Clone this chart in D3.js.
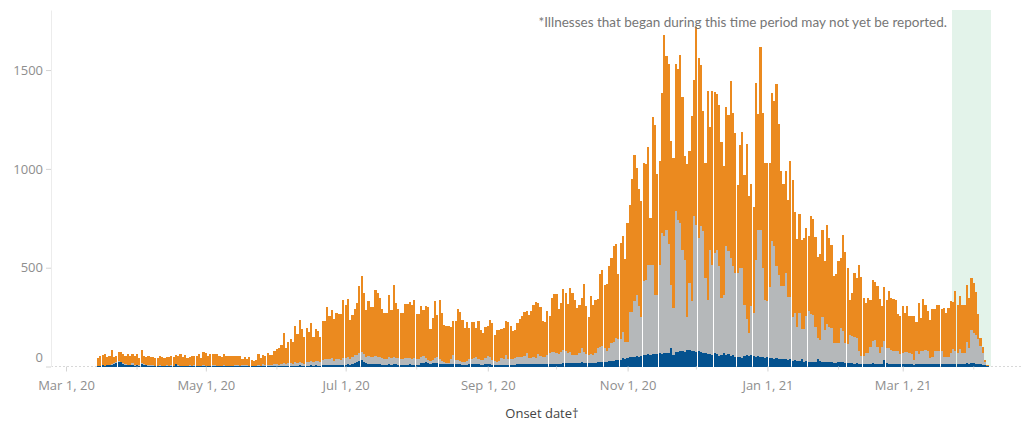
<!DOCTYPE html>
<html>
<head>
<meta charset="utf-8">
<script src="https://cdn.jsdelivr.net/npm/d3@7"></script>
<style>
  body { margin: 0; background: #fff; }
  svg { display: block; }
</style>
</head>
<body>
<svg id="chart"></svg>
<script>
// first day with a bar; one value per day after that
const firstDay = "2020-03-15";

// bottom segment (blue)
const blueSeries = [
  2,4,6,3,8,6,10,14,20,25, 22,15,10,8,6,8,5,6,4,14, 10,6,5,4,5,4,3,5,4,3, 4,3,5,3,12,5,3,4,3,3,
  4,3,5,3,2,3,4,3,3,2, 3,4,3,2,3,4,3,2,2,3, 3,2,2,2,3,2,2,2,1,2, 3,2,3,2,3,3,2,3,4,3,
  5,4,4,4,5,4,5,4,6,5, 4,5,5,6,5,6,5,4,6,6, 7,6,8,6,8,7,6,8,10,12, 10,14,20,24,28,32,25,18,15,12,
  12,14,12,12,10,10,10,12,10,12, 11,10,10,9,10,10,11,10,10,9, 10,16,20,22,16,14,16,18,16,15, 14,12,12,12,14,14,11,11,11,10,
  10,10,11,11,11,11,11,10,10,11, 11,11,10,10,10,10,9,9,10,9, 9,9,10,12,12,12,12,13,12,12, 13,12,14,13,12,12,13,13,14,14,
  14,13,15,20,20,18,20,20,18,18, 20,22,20,18,18,20,18,20,22,25, 25,24,24,26,28,30,33,33,35,42, 40,45,47,47,50,52,48,55,60,58,
  62,60,65,63,65,67,63,67,70,68, 92,60,75,72,80,78,75,82,84,80, 78,75,80,72,70,68,63,65,60,68, 62,55,60,66,58,62,55,60,50,48,
  50,45,55,58,52,58,55,50,52,48, 50,45,48,42,44,40,42,38,40,36, 38,34,36,30,32,28,27,36,25,26, 24,25,23,22,36,30,24,22,25,23,
  22,20,20,22,24,22,20,18,18,16, 15,16,14,13,12,14,15,13,16,15, 14,12,14,33,16,14,15,14,13,12, 14,13,15,14,12,13,10,14,15,14,
  13,15,14,12,13,15,14,15,14,12, 13,12,14,15,14,13,15,14,13,16, 14,18,16,15,14,12,10,6,1
];

// middle segment (grey)
const greySeries = [
  1,1,2,1,2,2,3,2,3,2, 2,3,2,2,4,8,3,2,2,3, 2,2,1,2,2,1,2,2,1,2, 2,1,2,2,2,1,2,1,2,1,
  2,2,2,1,2,2,3,2,2,2, 3,2,2,3,2,2,2,3,2,2, 3,4,3,4,3,8,3,2,2,3, 4,3,8,4,5,6,6,8,10,6,
  8,12,11,14,15,10,17,14,19,15, 10,17,20,24,17,22,25,20,29,32, 33,30,34,24,32,31,28,37,32,38, 28,34,36,36,38,39,37,32,40,36,
  34,38,38,36,32,30,28,38,32,38, 34,32,28,27,34,32,34,30,34,27, 28,34,33,23,17,16,17,27,34,25, 16,10,4,6,26,44,24,22,19,15,
  15,18,25,25,34,39,27,23,23,34, 42,39,23,20,15,18,36,31,50,31, 29,31,32,36,38,36,40,57,33,30, 37,33,51,42,36,38,47,55,61,58,
  56,49,57,64,60,52,55,40,40,38, 50,70,55,47,42,45,40,50,70,75, 79,71,56,69,93,96,110,105,105,135, 86,81,231,231,279,311,256,198,371,381,
  453,455,450,300,298,448,613,592,623,554, 322,235,714,667,647,513,465,171,338,249, 682,643,571,641,614,380,274,526,455,506, 529,452,286,297,550,521,494,447,423,425,
  448,453,257,182,116,246,215,490,641,645, 448,292,281,358,590,568,465,427,366,370, 435,320,318,223,238,174,243,154,165,230, 258,242,238,180,107,105,229,163,191,179,
  172,98,101,99,170,160,98,94,139,136, 133,127,62,42,43,53,52,84,115,120, 87,55,87,98,79,78,69,66,63,64, 49,57,57,58,55,50,23,62,48,66,
  63,69,62,29,37,61,62,61,62,38, 37,38,53,72,62,57,72,56,54,110, 78,167,152,145,124,94,57,16,1
];

// top segment (orange)
const orangeSeries = [
  41,49,50,57,37,46,68,31,28,47, 47,46,42,51,44,45,43,56,35,64, 42,39,45,41,40,36,39,47,42,36, 41,46,47,42,44,45,56,42,53,37,
  41,46,47,47,57,36,64,63,49,57, 58,55,59,46,42,55,49,46,50,46, 48,45,46,31,41,27,42,30,27,29, 54,40,47,48,59,51,52,69,75,84,
  95,152,77,108,120,112,181,144,211,170, 134,172,150,192,129,162,150,126,196,193, 262,222,246,209,232,229,233,293,267,293, 198,215,237,262,339,388,311,237,277,252,
  254,336,320,301,248,233,235,313,245,360, 277,250,235,234,270,274,280,269,294,231, 230,256,232,261,269,160,211,286,213,298, 240,187,189,186,159,173,196,259,245,211,
  169,198,160,190,181,144,193,151,139,154, 151,186,189,129,159,158,144,154,171,183, 169,142,143,171,190,207,223,210,218,240, 260,282,257,245,183,174,222,188,271,296,
  298,228,250,309,290,247,323,310,281,239, 240,254,344,239,190,293,254,268,251,368, 382,317,337,415,430,486,479,332,485,482, 420,601,539,672,739,639,592,586,600,584,
  596,235,748,857,609,525,710,1016,880,907, 727,762,743,766,851,775,525,770,668,939, 689,999,908,814,610,580,1058,621,880,816, 787,815,792,652,703,688,895,775,711,445,
  621,689,658,888,694,617,538,897,586,922, 786,694,702,631,752,736,925,761,583,515, 516,491,686,693,510,443,503,452,460,445, 377,497,483,452,411,436,437,347,502,448,
  422,341,348,415,353,485,460,384,180,222, 325,305,439,398,294,254,282,240,308,291, 308,274,206,269,239,288,265,263,261,189, 193,234,198,235,191,193,223,147,258,165,
  265,228,206,195,240,214,233,236,216,245, 223,245,262,239,304,242,271,242,245,288, 254,263,254,217,127,40,34,13,6
];

const seriesKeys = ["blue", "grey", "orange"];
const seriesColors = ["#04528f", "#b5b8ba", "#eb8a1f"];

const yTicks = [0, 500, 1000, 1500];
const majorTicks = ["2020-03-01", "2020-05-01", "2020-07-01", "2020-09-01", "2020-11-01", "2021-01-01", "2021-03-01"];
const minorTicks = ["2020-04-01", "2020-06-01", "2020-08-01", "2020-10-01", "2020-12-01", "2021-02-01", "2021-04-01"];

// days that may not be reported yet
const pendingStart = "2021-03-23";
const pendingEnd = "2021-04-08";

const note = "*Illnesses that began during this time period may not yet be reported.";
const xTitle = "Onset date\u2020";

const width = 1028, height = 425;
const font = "'Open Sans', sans-serif";
const parse = d3.utcParse("%Y-%m-%d");

const start = parse(firstDay);
const rows = blueSeries.map((b, i) => ({
  date: d3.utcDay.offset(start, i),
  blue: b,
  grey: greySeries[i],
  orange: orangeSeries[i]
}));

const svg = d3.select("#chart").attr("width", width).attr("height", height);

const x = d3.scaleUtc()
  .domain([parse("2020-03-01"), parse("2021-03-01")])
  .range([66, 902.7]);

const y = d3.scaleLinear()
  .domain([0, 1804])
  .range([366.5, 10]);

const dayW = x(parse("2020-03-02")) - x(parse("2020-03-01"));

// shaded band for the last weeks
svg.append("rect")
  .attr("x", x(parse(pendingStart)) - dayW / 2)
  .attr("y", y.range()[1])
  .attr("width", x(parse(pendingEnd)) - x(parse(pendingStart)) + dayW)
  .attr("height", y.range()[0] - y.range()[1])
  .attr("fill", "#e3f3ea");

// zero line
svg.append("line")
  .attr("x1", 51).attr("x2", 1022)
  .attr("y1", y(0)).attr("y2", y(0))
  .attr("stroke", "#d8d8d8")
  .attr("stroke-dasharray", "2,2");

const layers = d3.stack().keys(seriesKeys)(rows);

// bars a hair narrower than a day, so a thin white seam shows now and then
svg.append("g")
  .selectAll("g")
  .data(layers)
  .join("g")
  .attr("fill", (d, i) => seriesColors[i])
  .selectAll("rect")
  .data(d => d)
  .join("rect")
  .attr("x", d => x(d.data.date) - dayW / 2)
  .attr("width", dayW - 0.1)
  .attr("y", d => y(d[1]))
  .attr("height", d => Math.max(0, y(d[0]) - y(d[1])))
  .attr("shape-rendering", "crispEdges");

// y axis
const yAxis = svg.append("g")
  .attr("transform", "translate(51,0)")
  .call(d3.axisLeft(y).tickValues(yTicks).tickFormat(d3.format("d")).tickSize(5).tickSizeOuter(0));
yAxis.select(".domain").attr("stroke", "#ececec");
yAxis.selectAll(".tick line").attr("stroke", "#d4d4d4");
yAxis.selectAll(".tick text")
  .attr("fill", "#8e8e8e")
  .style("font-family", font)
  .style("font-size", "13px")
  .attr("dy", d => d === 0 ? "-0.35em" : "0.32em");

// x axis, labelled every two months
const xAxis = svg.append("g")
  .attr("transform", `translate(0,${y(0)})`)
  .call(d3.axisBottom(x)
    .tickValues(majorTicks.map(parse))
    .tickFormat(d3.utcFormat("%b %-d, %y"))
    .tickSize(5)
    .tickSizeOuter(0));
xAxis.select(".domain").remove();
xAxis.selectAll(".tick line").attr("stroke", "#d4d4d4");
xAxis.selectAll(".tick text")
  .attr("fill", "#8e8e8e")
  .attr("y", 14)
  .style("font-family", font)
  .style("font-size", "13px");

svg.append("g")
  .attr("transform", `translate(0,${y(0)})`)
  .selectAll("line")
  .data(minorTicks.map(parse))
  .join("line")
  .attr("x1", d => x(d)).attr("x2", d => x(d))
  .attr("y1", 0).attr("y2", 3)
  .attr("stroke", "#dcdcdc");

svg.append("text")
  .attr("x", 542)
  .attr("y", 418)
  .attr("text-anchor", "middle")
  .attr("fill", "#444")
  .style("font-family", font)
  .style("font-size", "13px")
  .text(xTitle);

svg.append("text")
  .attr("x", 947)
  .attr("y", 27)
  .attr("text-anchor", "end")
  .attr("fill", "#767676")
  .style("font-family", "Lato, sans-serif")
  .style("font-size", "13.5px")
  .text(note);
</script>
</body>
</html>
